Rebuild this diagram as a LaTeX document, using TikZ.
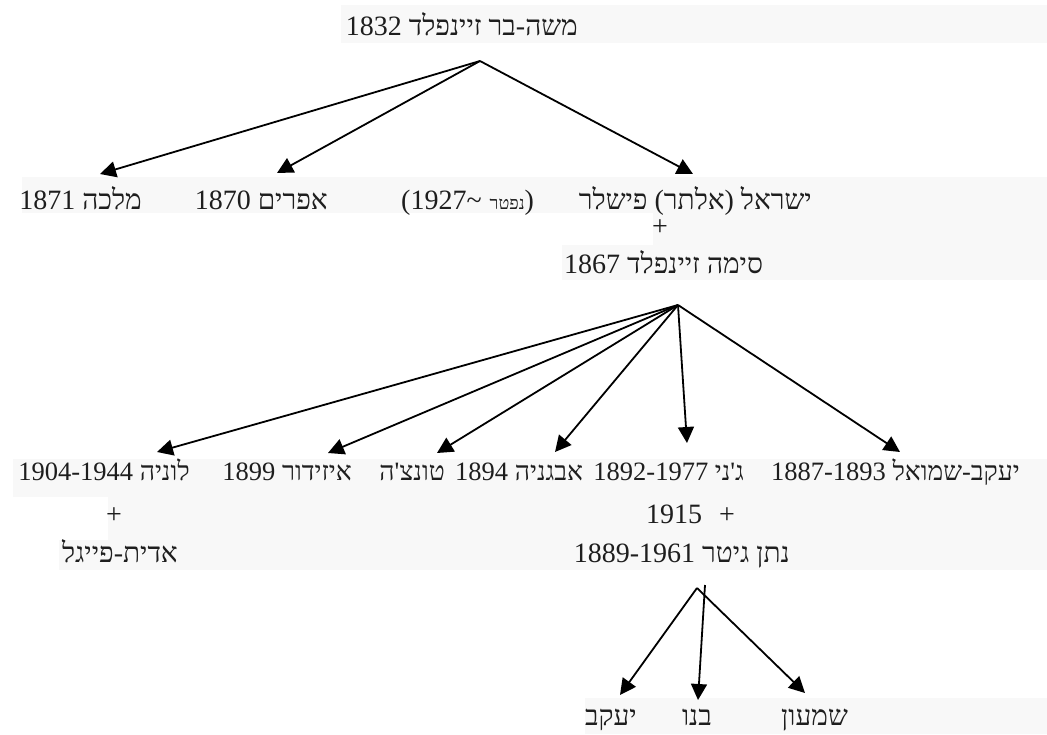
\documentclass[tikz,border=0pt]{standalone}
\usepackage{fontspec}
\setmainfont{Liberation Serif}
\newfontfamily\heb[Script=Hebrew]{Liberation Serif}
\newfontfamily\lat{Liberation Serif}
\TeXXeTstate=1
\usetikzlibrary{arrows.meta}
\definecolor{bgc}{HTML}{F8F8F8}
\definecolor{txt}{HTML}{1E1E1E}
\tikzset{
  lbl/.style={inner sep=0pt, anchor=base east, font=\heb\fontsize{28}{32}\selectfont, text=txt},
  lblw/.style={inner sep=0pt, anchor=base west, font=\heb\fontsize{28}{32}\selectfont, text=txt},
  rowfive/.style={lbl, font=\heb\fontsize{26.5}{32}\selectfont},
  rowfivew/.style={lblw, font=\heb\fontsize{26.5}{32}\selectfont},
  latw/.style={inner sep=0pt, anchor=base west, font=\lat\fontsize{28}{32}\selectfont, text=txt},
  conn/.style={line width=1.8pt, draw=black, -{Triangle[length=16pt,width=16pt]}},
  bgbox/.style={fill=bgc, draw=none}
}
\begin{document}
\begin{tikzpicture}[x=1pt,y=-1pt]
\useasboundingbox (0,0) rectangle (1047,734);
% faint line backgrounds
\fill[bgbox] (341,5) rectangle (1047,43);
\fill[bgbox] (22,177) rectangle (1047,213);
\fill[bgbox] (653,213) rectangle (1047,245);
\fill[bgbox] (562,245) rectangle (1047,280);
\fill[bgbox] (13,459) rectangle (1047,497);
\fill[bgbox] (108,497) rectangle (1047,540);
\fill[bgbox] (59,540) rectangle (1047,570);
\fill[bgbox] (585,698) rectangle (1047,734);

% row 1
\node[lbl] (moshe) at (578,35) {\beginR משה-בר זיינפלד \beginL1832\endL\endR};
% row 2
\node[lbl] (malka) at (142,209) {\beginR מלכה \beginL1871\endL\endR};
\node[lbl] (efraim) at (328,209) {\beginR אפרים \beginL1870\endL\endR};
\node[latw] (niftar) at (401,209) {(1927\textasciitilde\hspace{8pt}{\heb\fontsize{18}{20}\selectfont נפטר})};
\node[lbl] (israel) at (812,209) {\beginR ישראל (אלתר) פישלר\endR};
\node[latw] (plus1) at (652,235) {+};
\node[lblw] (sima) at (564,273) {\beginR סימה זיינפלד \beginL1867\endL\endR};
% row 5
\node[rowfive] (lunya) at (190,480) {\beginR לוניה \beginL1904-1944\endL\endR};
\node[rowfive] (izidor) at (352,480) {\beginR איזידור \beginL1899\endL\endR};
\node[rowfive] (tonzhe) at (445,480) {\beginR טונצ'ה\endR};
\node[rowfivew] (avganya) at ([xshift=10pt]tonzhe.base east) {\beginR אבגניה \beginL1894\endL\endR};
\node[rowfivew] (jenny) at ([xshift=10pt]avganya.base east) {\beginR ג'ני \beginL1892-1977\endL\endR};
\node[rowfive] (yshmuel) at (1020,480) {\beginR יעקב-שמואל \beginL1887-1893\endL\endR};
% row 6
\node[latw] (plus2) at (106,523) {+};
\node[latw] (y1915) at (646,523) {1915};
\node[latw] (plus3) at (719,523) {+};
% row 7
\node[lbl] (edit) at (178,562) {\beginR אדית-פייגל\endR};
\node[lbl] (natan) at (790,562) {\beginR נתן גיטר \beginL1889-1961\endL\endR};
% row 8
\node[lbl] (yaakov) at (637,725) {\beginR יעקב\endR};
\node[lbl] (bnu) at (712,725) {\beginR בנו\endR};
\node[lbl] (shimon) at (848,725) {\beginR שמעון\endR};

% connector points
\coordinate (r1) at (480,61);
\coordinate (t11) at (100,174);
\coordinate (t12) at (277,173);
\coordinate (t13) at (693,174);
\coordinate (r2) at (678,305);
\coordinate (t21) at (157,452);
\coordinate (t22) at (328,453);
\coordinate (t23) at (437,453);
\coordinate (t24) at (555,452);
\coordinate (t25) at (687,443);
\coordinate (t26) at (900,452);
\coordinate (r3) at (697,588);
\coordinate (r3b) at (705,585);
\coordinate (t31) at (620,695);
\coordinate (t32) at (698,700);
\coordinate (t33) at (805,693);

\draw[conn] (r1) -- (t11);
\draw[conn] (r1) -- (t12);
\draw[conn] (r1) -- (t13);
\draw[conn] (r2) -- (t21);
\draw[conn] (r2) -- (t22);
\draw[conn] (r2) -- (t23);
\draw[conn] (r2) -- (t24);
\draw[conn] (r2) -- (t25);
\draw[conn] (r2) -- (t26);
\draw[conn] (r3) -- (t31);
\draw[conn] (r3b) -- (t32);
\draw[conn] (r3) -- (t33);
\end{tikzpicture}
\end{document}
